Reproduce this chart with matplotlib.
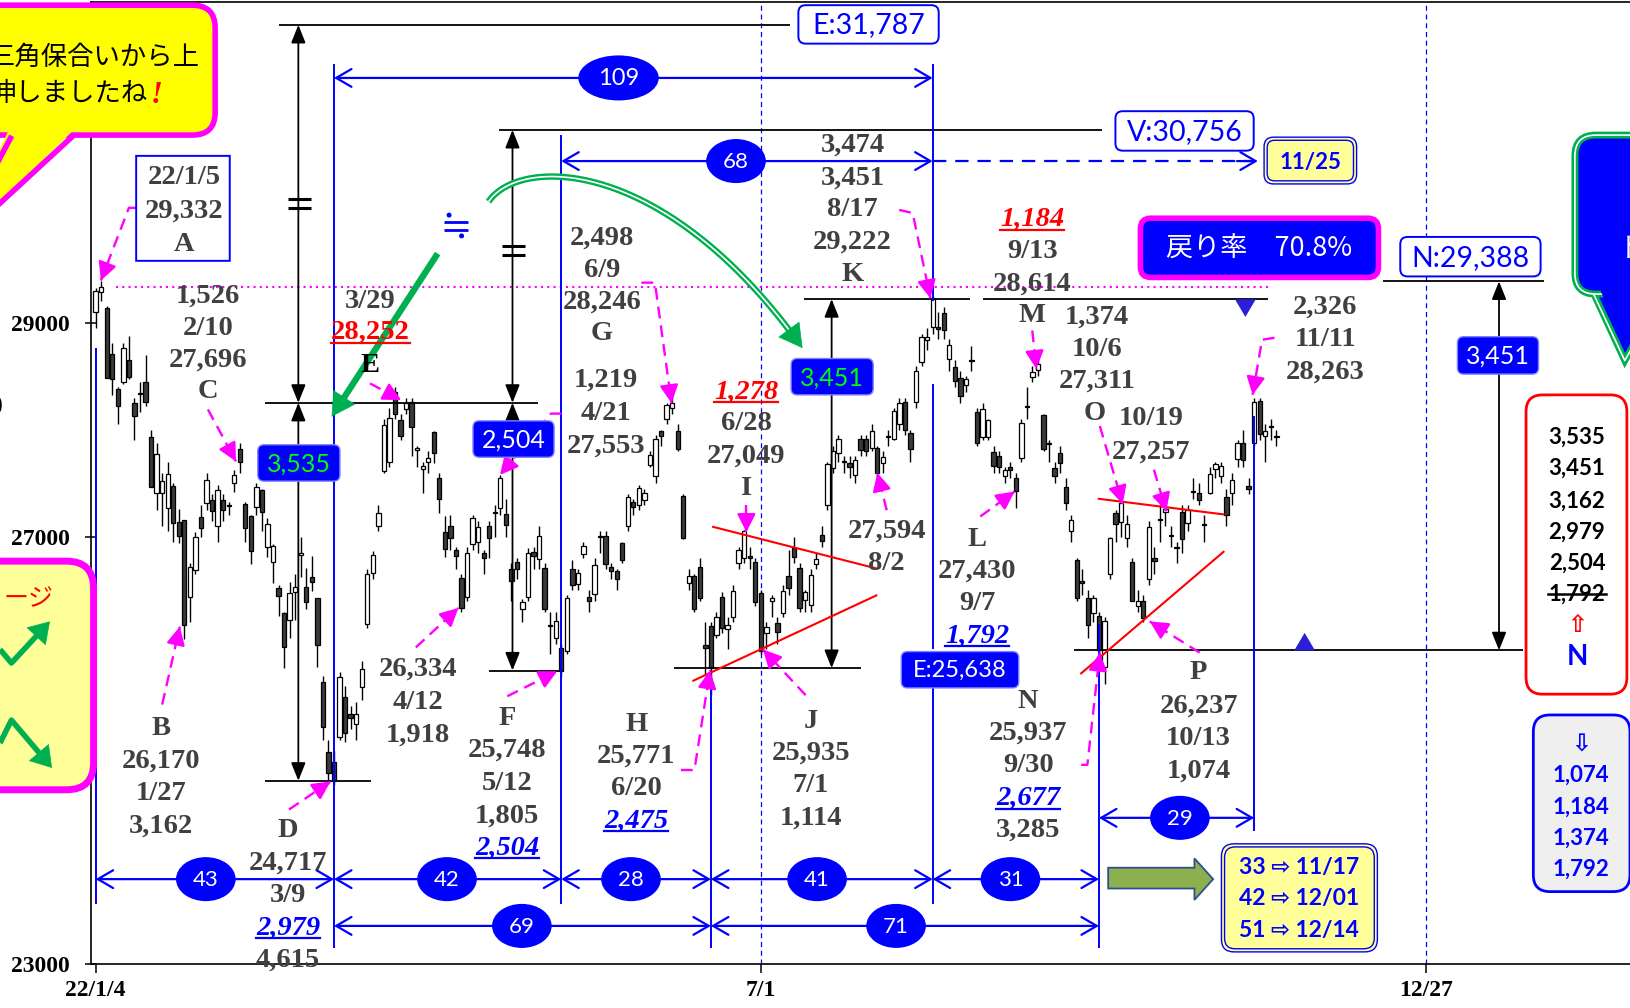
import numpy as np
import matplotlib
matplotlib.use("Agg")
import matplotlib.pyplot as plt
from matplotlib.patches import FancyBboxPatch, Ellipse, Polygon, FancyArrowPatch, Circle

# ------------------------------------------------------------------ data
dates = ["1/4","1/5","1/6","1/7","1/11","1/12","1/13","1/14","1/17","1/18","1/19","1/20","1/21","1/24","1/25","1/26","1/27","1/28","1/31",
         "2/1","2/2","2/3","2/4","2/7","2/8","2/9","2/10","2/14","2/15","2/16","2/17","2/18","2/21","2/22","2/24","2/25","2/28",
         "3/1","3/2","3/3","3/4","3/7","3/8","3/9","3/10","3/11","3/14","3/15","3/16","3/17","3/18","3/22","3/23","3/24","3/25","3/28","3/29","3/30","3/31",
         "4/1","4/4","4/5","4/6","4/7","4/8","4/11","4/12","4/13","4/14","4/15","4/18","4/19","4/20","4/21","4/22","4/25","4/26","4/27","4/28",
         "5/2","5/6","5/9","5/10","5/11","5/12","5/13","5/16","5/17","5/18","5/19","5/20","5/23","5/24","5/25","5/26","5/27","5/30","5/31",
         "6/1","6/2","6/3","6/6","6/7","6/8","6/9","6/10","6/13","6/14","6/15","6/16","6/17","6/20","6/21","6/22","6/23","6/24","6/27","6/28","6/29","6/30",
         "7/1","7/4","7/5","7/6","7/7","7/8","7/11","7/12","7/13","7/14","7/15","7/19","7/20","7/21","7/22","7/25","7/26","7/27","7/28","7/29",
         "8/1","8/2","8/3","8/4","8/5","8/8","8/9","8/10","8/12","8/15","8/16","8/17","8/18","8/19","8/22","8/23","8/24","8/25","8/26","8/29","8/30","8/31",
         "9/1","9/2","9/5","9/6","9/7","9/8","9/9","9/12","9/13","9/14","9/15","9/16","9/20","9/21","9/22","9/26","9/27","9/28","9/29","9/30",
         "10/3","10/4","10/5","10/6","10/7","10/11","10/12","10/13","10/14","10/17","10/18","10/19","10/20","10/21","10/24","10/25","10/26","10/27","10/28","10/31",
         "11/1","11/2","11/4","11/7","11/8","11/9","11/10","11/11","11/14","11/15","11/16","11/17"]

opens = [29098,29288,29136,28711,28380,28450,28655,28253,28330,28448,27934,27410,27410,27270,27470,27140,27160,26440,26690,
         27180,27315,27345,27100,27345,27300,27500,27820,27310,27190,27280,27440,26905,26765,26520,26290,26220,26480,
         26830,26530,26620,26430,25640,24990,24890,25124,25500,25340,25245,25590,26180,26660,27100,27610,27700,28350,28095,28190,28260,27815,
         27630,27695,27975,27545,27040,27100,26880,26615,26440,26930,26950,26850,27100,27225,27270,27210,26700,26760,26320,26440,
         26860,26790,26710,26160,26055,25960,25930,26700,26560,26835,26440,26460,27000,27010,26720,26680,26945,27100,27320,
         27300,27345,27675,27565,27985,28105,28200,27990,27380,26570,26630,26720,25990,26160,26085,26440,26140,26245,26755,26805,26820,26760,
         26470,26100,26395,26195,26290,26630,26895,26710,26410,26365,26740,27020,27300,27645,27785,27700,27690,27580,27915,27915,
         27825,27825,27685,27930,27915,28050,28255,27965,28255,28630,28835,28965,28965,29095,28665,28590,28485,28420,28645,28170,27935,27935,
         27795,27755,27570,27655,27550,27740,28215,28490,28560,28140,27870,27645,27785,27460,27055,26785,26590,26430,26290,26255,
         25785,26655,27225,27140,26985,26760,26355,26400,26600,26800,27160,27235,27010,26900,27235,27125,27420,27410,27115,27405,
         27630,27570,27375,27410,27730,27880,27470,27880,28270,27945,28030,27945]
highs = [29323,29388,29158,28813,28400,28813,28876,28300,28447,28700,28000,27880,27600,27700,27500,27260,27160,26750,27048,
         27300,27600,27400,27480,27400,27320,27620,27880,27320,27200,27500,27450,27170,26930,26550,26300,26580,26650,
         27000,26710,26820,26430,25700,25100,25000,25735,25600,25420,25450,25835,26700,26870,27300,28100,28200,28400,28150,28300,28300,27850,
         27700,27800,27990,27600,27190,27200,26900,26650,26900,27200,27150,26880,27150,27300,27580,27350,26750,26800,26420,26890,
         26900,27100,26750,26300,26300,26000,26450,26780,26700,26950,26500,26800,27050,27050,26750,26700,26950,27400,27350,
         27480,27450,27800,27950,28000,28250,28389,28050,27400,26700,26650,26800,26200,26200,26300,26480,26250,26550,26900,27062,26900,26800,
         26500,26200,26450,26250,26550,26880,27000,26750,26500,26700,26850,27100,27700,27850,27950,27750,27750,27750,27950,27950,
         28050,27850,27800,28000,28200,28300,28300,28000,28600,28900,28950,29250,29100,29150,28850,28650,28550,28500,28780,28200,28250,28100,
         27850,27800,27650,27700,27600,28100,28400,28600,28650,28150,27900,27700,27850,27550,27200,26800,26700,26500,26450,26300,
         26250,27000,27250,27399,27200,26800,26500,26450,27150,26900,27300,27300,27100,26950,27300,27300,27550,27500,27200,27650,
         27700,27700,27450,27600,27900,28000,27550,28300,28300,28050,28100,28000]
lows = [28954,29204,28487,28324,28050,28430,28475,27900,28164,28220,27467,27250,27100,27050,26950,26940,26044,26200,26650,
        27000,27250,27150,26950,27150,27200,27420,27600,26950,26740,27200,27050,26810,26570,26260,25776,26050,26220,
        26625,26320,26490,25785,25100,24690,24681,25100,25075,25200,25100,25475,26150,26600,27050,27600,27650,28100,27900,28150,27750,27650,
        27410,27600,27690,27225,26810,26880,26700,26300,26400,26880,26850,26650,26800,27000,27200,27000,26400,26600,26200,26400,
        26700,26700,26300,25900,26000,25688,25900,26500,26500,26800,26300,26400,26850,26700,26600,26500,26750,27050,27200,
        27250,27300,27650,27500,27850,28050,28150,27800,26980,26500,26300,26400,25720,25520,26050,26100,25950,26200,26700,26750,26700,26350,
        25900,25950,26250,26000,26250,26450,26750,26300,26300,26300,26700,26900,27250,27600,27700,27600,27550,27500,27750,27750,
        27800,27450,27600,27850,27900,28000,27950,27700,28200,28600,28750,28900,28850,28850,28550,28400,28250,28350,28550,27850,27900,27900,
        27600,27600,27500,27550,27268,27700,28100,28450,28500,27800,27700,27500,27600,27250,26950,26400,26450,26050,26200,25900,
        25621,26600,26950,27000,26900,26400,26300,26200,26550,26650,26950,27100,26900,26750,26850,27050,27350,27300,26950,27400,
        27550,27500,27100,27300,27650,27650,27400,27850,27900,27700,27900,27850]
closes = [29301,29332,28487,28478,28222,28765,28489,28124,28333,28257,27467,27772,27522,27588,27131,27011,26170,26717,27001,
          27078,27533,27241,27440,27248,27284,27579,27696,27079,26865,27460,27232,27122,26910,26449,25970,26476,26526,
          26844,26393,26577,25985,25221,24790,24717,25690,25162,25307,25346,25762,26652,26827,27224,28040,28110,28149,27943,28252,28027,27821,
          27665,27736,27787,27350,26888,26985,26821,26334,26843,27172,27093,26799,26985,27217,27553,27105,26590,26700,26386,26847,
          26818,27003,26319,26167,26213,25748,26427,26547,26659,26911,26402,26739,27001,26748,26677,26604,26781,27369,27279,
          27457,27413,27761,27915,27943,28234,28246,27824,26987,26629,26326,26431,25963,25771,26246,26149,26171,26491,26871,27049,26804,26393,
          25935,26153,26423,26107,26490,26517,26812,26336,26478,26643,26788,26961,27680,27803,27914,27699,27655,27715,27815,27801,
          27993,27594,27741,27932,28175,28249,27999,27819,28546,28871,28868,29222,28942,28930,28794,28452,28313,28479,28641,27878,28195,28091,
          27661,27650,27619,27626,27430,28065,28214,28542,28614,27818,27875,27567,27688,27313,27153,26431,26571,26173,26422,25937,
          26215,26992,27120,27311,27116,26401,26396,26237,27090,26775,27156,27257,27006,26890,26974,27250,27431,27345,27105,27587,
          27678,27663,27199,27527,27872,27716,27446,28263,27963,27990,28028,27930]

# pivot closes and targets
E_val, D_val, F_val, H_val, K_val, N_val, A_val = 28252, 24717, 25748, 25771, 29222, 25937, 29332
E_target, V_target, N_target = 31787, 30756, 29388
pivots = {"D": "3/9", "F": "5/12", "H": "6/20", "K": "8/17", "N": "9/30", "Q": "11/11"}
xtick_pos = [0, 120, 240]
xtick_lab = ["22/1/4", "7/1", "12/27"]
ytick_vals = [23000, 25000, 27000, 29000, 31000]

MAG, BLUE, GRAY, GREEN = "#ff00ff", "#0000ff", "#404040", "#00b050"
SERIF = "Liberation Serif"
SANS = ["Lato", "DejaVu Sans"]
CJK = ["Noto Sans CJK JP", "DejaVu Sans"]

fig = plt.figure(figsize=(16.3, 10.08), dpi=100, facecolor="white")
ax = fig.add_axes([88/1568, 42/970, 1 - 88/1568, 926/970])
ax.set_xlim(-0.75, 276.8)
ax.set_ylim(23000, 32000)

# ------------------------------------------------------------------ candles
x = np.arange(len(dates))
o = np.array(opens, float); h = np.array(highs, float)
l = np.array(lows, float); c = np.array(closes, float)
up = c >= o
ax.vlines(x, np.minimum(l, np.minimum(o, c)), np.maximum(h, np.maximum(o, c)),
          color="black", lw=1.0, zorder=2)
bot = np.minimum(o, c)
ht = np.maximum(np.abs(c - o), 10)
ax.bar(x[up], ht[up], bottom=bot[up], width=0.78, facecolor="white",
       edgecolor="black", linewidth=0.9, zorder=3)
ax.bar(x[~up], ht[~up], bottom=bot[~up], width=0.78, facecolor="#3a3a3a",
       edgecolor="black", linewidth=0.9, zorder=3)

for xv in (120, 240):
    ax.axvline(xv, color=BLUE, lw=0.9, ls=(0, (4, 3)), zorder=1)

ax.set_yticks(ytick_vals)
ax.set_yticklabels([str(v) for v in ytick_vals])
ax.set_xticks(xtick_pos)
ax.set_xticklabels(xtick_lab)
ax.tick_params(axis="y", direction="inout", length=9, width=1.1, pad=11)
ax.tick_params(axis="x", direction="out", length=6.5, width=1.1, pad=5)
for tl in ax.get_xticklabels() + ax.get_yticklabels():
    tl.set_fontfamily(SERIF); tl.set_fontweight("bold"); tl.set_fontsize(17)
ax.spines["right"].set_visible(False)
for s in ("left", "bottom", "top"):
    ax.spines[s].set_linewidth(1.2)

# ------------------------------------------------------------------ overlay (reference pixel space 1568x970)
ov = fig.add_axes([0, 0, 1, 1], zorder=5)
ov.set_xlim(0, 1568); ov.set_ylim(970, 0)
ov.axis("off"); ov.patch.set_visible(False)


def dov(xi, yv):
    return ov.transData.inverted().transform(ax.transData.transform((xi, yv)))


def X(i):
    return dov(i, 27000)[0]


def Y(v):
    return dov(0, v)[1]


iD, iF, iH, iK, iN, iQ = [dates.index(pivots[k]) for k in ("D", "F", "H", "K", "N", "Q")]
xD, xF, xH, xK, xN, xQ, x0 = X(iD), X(iF), X(iH), X(iK), X(iN), X(iQ), X(0)

underlines, strikes = [], []


def rbox(x0_, y0_, x1_, y1_, fc, ec, lw, r=6, z=6, ls="-"):
    p = FancyBboxPatch((x0_, y0_), x1_ - x0_, y1_ - y0_,
                       boxstyle=f"round,pad=0,rounding_size={r}",
                       fc=fc, ec=ec, lw=lw, zorder=z, ls=ls)
    ov.add_patch(p)
    return p


def lab(xp, yp, s, kind="g", size=20.5):
    col = {"g": GRAY, "k": "black", "r": "red", "ri": "red", "bi": BLUE}[kind]
    st = "italic" if kind in ("ri", "bi") else "normal"
    t = ov.text(xp, yp, s, ha="center", va="center", fontsize=size, color=col,
                fontstyle=st, fontweight="bold", family=SERIF, zorder=7)
    if kind in ("r", "ri", "bi"):
        underlines.append((t, col))
    return t


def block(xp, rows):
    for row in rows:
        lab(xp, row[0], row[1], *(row[2:] if len(row) > 2 else ()))


def hline(y, xa, xb, col="black", lw=1.3, z=2, ls="-"):
    ov.plot([xa, xb], [y, y], color=col, lw=lw, zorder=z, ls=ls, solid_capstyle="butt")


def vline(xp, ya, yb, col=BLUE, lw=1.4, z=2):
    ov.plot([xp, xp], [ya, yb], color=col, lw=lw, zorder=z, solid_capstyle="butt")


def marrow(pts):
    pts = np.array(pts, float)
    ov.plot(pts[:, 0], pts[:, 1], color=MAG, lw=1.7, ls=(0, (5, 3)), zorder=4)
    a, b = pts[-2], pts[-1]
    d = (b - a) / np.hypot(*(b - a))
    ov.add_patch(FancyArrowPatch(b - d * 14, b, arrowstyle="-|>,head_length=0.55,head_width=0.28",
                                 mutation_scale=20, color=MAG, lw=1.7, zorder=4,
                                 shrinkA=0, shrinkB=0))


def dim(xa, xb, y, col=BLUE):
    ov.annotate("", xy=(xb, y), xytext=(xa, y),
                arrowprops=dict(arrowstyle="<->,head_length=0.55,head_width=0.32", color=col,
                                lw=1.6, shrinkA=0, shrinkB=0, mutation_scale=20), zorder=3)


def cnt(xp, y, s, w=56, hh=41, size=16):
    ov.add_patch(Ellipse((xp, y), w, hh, fc=BLUE, ec=BLUE, lw=1, zorder=5))
    ov.text(xp, y + 1, s, ha="center", va="center", color="white", fontsize=size,
            family=SANS, zorder=7)


def vdim(xp, ya, yb):
    ov.annotate("", xy=(xp, yb), xytext=(xp, ya),
                arrowprops=dict(arrowstyle="<|-|>,head_length=0.55,head_width=0.22", color="black",
                                lw=1.3, shrinkA=0, shrinkB=0, mutation_scale=20), zorder=3)


def garrow(pts, tip_len=16):
    pts = np.array(pts, float)
    seg = np.cumsum(np.r_[0, np.hypot(*np.diff(pts, axis=0).T)])
    cut = seg[-1] - tip_len
    keep = pts[seg <= cut]
    d = pts[-1] - keep[-1]
    d /= np.hypot(*d)
    base = pts[-1] - d * tip_len
    body = np.vstack([keep, base])
    ov.plot(body[:, 0], body[:, 1], color=GREEN, lw=4.6, zorder=4, solid_capstyle="butt")
    ov.plot(body[:-1, 0], body[:-1, 1], color="white", lw=1.2, zorder=4, solid_capstyle="butt")
    ov.add_patch(FancyArrowPatch(base, pts[-1], arrowstyle="-|>,head_length=0.8,head_width=0.45",
                                 mutation_scale=20, color=GREEN, lw=0.5, zorder=4,
                                 shrinkA=0, shrinkB=0))


# --- magenta dotted level (A close)
hline(Y(A_val), 112, 1222, col=MAG, lw=1.5, ls=(0, (1, 2)))

# --- black level lines (V line drawn slightly higher as in the original)
for v, xa, xb, dy in [(E_target, 268, 760, 0), (V_target, 480, 1060, -5), (E_val, 255, 518, 0),
                      (D_val, 255, 357, 0), (F_val, 470, 540, 0), (H_val, 648, 828, 0),
                      (K_val, 773, 933, 0), (K_val, 946, 1220, 0), (N_val, 1033, 1465, 0),
                      (N_target, 1330, 1485, 0)]:
    hline(Y(v) + dy, xa, xb)

# --- vertical black measure arrows
vdim(287, Y(E_target), Y(E_val)); vdim(287, Y(E_val), Y(D_val))
vdim(493, Y(V_target) - 5, Y(E_val)); vdim(493, Y(E_val), Y(F_val))
vdim(800, Y(H_val), Y(K_val))
vdim(1442, Y(N_target), Y(N_val))
for xc, yc in [(288, 196), (494, 241)]:
    hline(yc - 4.5, xc - 11, xc + 11, lw=2.2, z=4)
    hline(yc + 4.5, xc - 11, xc + 11, lw=2.2, z=4)

# --- blue vertical period lines
for xp, ya, yb in [(x0, 335, 870), (xD, 62, 912), (xF, 130, 870), (xH, 645, 912),
                   (xK, 62, 290), (xK, 370, 625), (xK, 662, 870), (xN, 600, 912), (xQ, 400, 800)]:
    vline(xp, ya, yb)

# --- blue period dimension rows
for xa, xb in [(x0, xD), (xD, xF), (xF, xH), (xH, xK), (xK, xN)]:
    dim(xa, xb, 846)
for xa, xb in [(xD, xH), (xH, xN)]:
    dim(xa, xb, 891)
dim(xN, xQ, 787)
dim(xD, xK, 75)
dim(xF, xK, 155)
ov.plot([xK, 1203], [155, 155], color=BLUE, lw=1.6, ls=(0, (6, 4)), zorder=3)
ov.annotate("", xy=(1210, 155), xytext=(1190, 155),
            arrowprops=dict(arrowstyle="->,head_length=0.55,head_width=0.32", color=BLUE, lw=1.6,
                            shrinkA=0, shrinkB=0, mutation_scale=20), zorder=3)
for xp, y, s in [(198, 846, "43"), (430, 846, "42"), (607, 846, "28"), (786, 846, "41"),
                 (972, 846, "31"), (502, 891, "69"), (862, 891, "71"), (1135, 787, "29"),
                 (708, 155, "68")]:
    cnt(xp, y, s)
cnt(595, 75, "109", w=76, hh=42, size=17)

# --- red triangle (wedge) lines
for (xa, ya), (xb, yb) in [((686, 507), (843, 547)), ((667, 655), (843, 573)),
                           ((1057, 480), (1177, 495)), ((1040, 648), (1177, 531))]:
    ov.plot([xa, xb], [ya, yb], color="red", lw=1.5, zorder=4)

# --- markers
ov.add_patch(Polygon([(1188, 288), (1208, 288), (1198, 305)], closed=True, fc="#2a1fd6", ec="none", zorder=5))
ov.add_patch(Polygon([(1245, 626), (1265, 626), (1255, 609)], closed=True, fc="#2a1fd6", ec="none", zorder=5))

# --- green arrows
t = np.linspace(0, 1, 80)[:, None]
P = np.array([(470, 194), (500, 150), (640, 150), (772, 335)], float)
arc = ((1 - t) ** 3) * P[0] + 3 * ((1 - t) ** 2) * t * P[1] + 3 * (1 - t) * t ** 2 * P[2] + t ** 3 * P[3]
garrow(arc)
garrow([(421, 244), (319, 401)])

# "≒" sign (drawn)
hline(213.5, 427, 450, col=BLUE, lw=2.0, z=7)
hline(221.0, 427, 450, col=BLUE, lw=2.0, z=7)
ov.add_patch(Circle((432, 207), 2.4, fc=BLUE, ec="none", zorder=7))
ov.add_patch(Circle((444, 227), 2.4, fc=BLUE, ec="none", zorder=7))

# --- magenta pointer arrows
for pts in [[(131, 200), (124, 200), (97, 270)],
            [(200, 394), (227, 444)],
            [(156, 678), (173, 603)],
            [(278, 779), (318, 752)],
            [(356, 369), (386, 385)],
            [(400, 623), (441, 585)],
            [(488, 670), (536, 646)],
            [(540, 398), (530, 398), (481, 457)],
            [(617, 272), (630, 272), (646, 388)],
            [(718, 486), (718, 512)],
            [(655, 741), (668, 741), (683, 645)],
            [(775, 669), (734, 625)],
            [(853, 491), (844, 455)],
            [(865, 202), (878, 205), (895, 287)],
            [(943, 497), (976, 473)],
            [(993, 318), (997, 355)],
            [(1058, 410), (1080, 485)],
            [(1110, 452), (1122, 492)],
            [(1040, 736), (1046, 736), (1058, 628)],
            [(1154, 628), (1106, 598)],
            [(1226, 325), (1214, 327), (1205, 380)]]:
    marrow(pts)

# --- text labels (pivot information)
rbox(131, 150, 221, 251, "white", BLUE, 1.4, r=0, z=5)
block(177, [(171, "22/1/5"), (203, "29,332"), (235, "A")])
block(200, [(285, "1,526"), (316, "2/10"), (347, "27,696"), (377, "C")])
block(356, [(290, "3/29"), (320, "28,252", "r"), (352, "E", "k")])
block(155, [(701, "B"), (732, "26,170"), (764, "1/27"), (795, "3,162")])
block(277, [(799, "D"), (831, "24,717"), (862, "3/9"), (893, "2,979", "bi"), (924, "4,615")])
block(402, [(644, "26,334"), (676, "4/12"), (707, "1,918")])
block(488, [(691, "F"), (722, "25,748"), (754, "5/12"), (785, "1,805"), (816, "2,504", "bi")])
block(579, [(229, "2,498"), (260, "6/9"), (291, "28,246"), (321, "G")])
block(583, [(366, "1,219"), (398, "4/21"), (429, "27,553")])
block(718, [(377, "1,278", "ri"), (408, "6/28"), (439, "27,049"), (470, "I")])
block(612, [(697, "H"), (728, "25,771"), (759, "6/20"), (790, "2,475", "bi")])
block(780, [(694, "J"), (725, "25,935"), (756, "7/1"), (787, "1,114")])
block(820, [(140, "3,474"), (171, "3,451"), (202, "8/17"), (233, "29,222"), (264, "K")])
block(853, [(511, "27,594"), (542, "8/2")])
block(993, [(211, "1,184", "ri"), (242, "9/13"), (273, "28,614"), (304, "M")])
block(1055, [(305, "1,374"), (336, "10/6"), (367, "27,311")])
lab(1053, 398, "O")
block(1107, [(403, "10/19"), (435, "27,257")])
block(940, [(519, "L"), (550, "27,430"), (581, "9/7"), (612, "1,792", "bi")])
block(989, [(675, "N"), (706, "25,937"), (737, "9/30"), (768, "2,677", "bi"), (799, "3,285")])
block(1153, [(647, "P"), (680, "26,237"), (711, "10/13"), (742, "1,074")])
block(1275, [(296, "2,326"), (327, "11/11"), (358, "28,263")])
# partially visible character at the far left edge
ov.text(3, 392, "0", ha="right", va="center", fontsize=20, fontweight="bold", family=SERIF,
        color="black", zorder=7)

# --- value boxes
for (bx0, by0, bx1, by1, s, col, fs) in [(248, 428, 327, 463, "3,535", "#00ff00", 18),
                                         (455, 405, 533, 440, "2,504", "white", 18),
                                         (761, 345, 840, 380, "3,451", "#00ff00", 18),
                                         (1402, 324, 1480, 360, "3,451", "white", 18),
                                         (867, 627, 980, 662, "E:25,638", "white", 17)]:
    rbox(bx0, by0, bx1, by1, BLUE, "#8080ff", 1.0, r=6)
    ov.text((bx0 + bx1) / 2, (by0 + by1) / 2 + 1, s, ha="center", va="center", color=col,
            fontsize=fs, family=SANS, zorder=7)

for (bx0, by0, bx1, by1, s) in [(768, 5, 903, 42, "E:31,787"), (1073, 107, 1206, 145, "V:30,756"),
                                (1347, 228, 1482, 266, "N:29,388")]:
    rbox(bx0, by0, bx1, by1, "white", BLUE, 1.4, r=7)
    ov.text((bx0 + bx1) / 2, (by0 + by1) / 2 + 1, s, ha="center", va="center", color=BLUE,
            fontsize=20.5, family=SANS, zorder=7)

# 11/25 box
rbox(1216, 132, 1305, 177, "#ffff99", BLUE, 1.0, r=9)
rbox(1219, 135, 1302, 174, "none", BLUE, 1.0, r=7)
ov.text(1260.5, 156, "11/25", ha="center", va="center", color=BLUE, fontsize=16,
        fontweight="bold", family=SANS, zorder=7)

# return-rate box
rbox(1097, 210, 1326, 267, BLUE, MAG, 4, r=10)
ov.text(1211, 240, "戻り率　70.8%", ha="center", va="center", color="white", fontsize=19.5,
        family=CJK, zorder=7)

# red list box
rbox(1468, 380, 1565, 668, "white", "red", 2, r=16)
for y, s in [(421, "3,535"), (451, "3,451"), (482, "3,162"), (512, "2,979"), (542, "2,504")]:
    ov.text(1517, y, s, ha="center", va="center", color="black", fontsize=16, fontweight="bold",
            family=SANS, zorder=7)
ts = ov.text(1517, 572, "1,792", ha="center", va="center", color="black", fontsize=16,
             fontweight="bold", family=SANS, zorder=7)
strikes.append(ts)
ov.text(1517, 601, "⇧", ha="center", va="center", color="red", fontsize=17, fontweight="bold",
        family=["DejaVu Sans"], zorder=7)
ov.text(1517, 632, "N", ha="center", va="center", color=BLUE, fontsize=20, fontweight="bold",
        family=SANS, zorder=7)

# blue list box
rbox(1475, 688, 1568, 858, "#efefef", BLUE, 2, r=16)
ov.text(1521, 716, "⇩", ha="center", va="center", color=BLUE, fontsize=17, fontweight="bold",
        family=["DejaVu Sans"], zorder=7)
for y, s in [(746, "1,074"), (777, "1,184"), (807, "1,374"), (836, "1,792")]:
    ov.text(1521, y, s, ha="center", va="center", color=BLUE, fontsize=16, fontweight="bold",
            family=SANS, zorder=7)

# forecast box + block arrow
ov.add_patch(Polygon([(1066, 835), (1149, 835), (1149, 826), (1167, 846), (1149, 866), (1149, 855), (1066, 855)],
                     closed=True, fc="#8db04f", ec="#2f4f8f", lw=1.3, zorder=5))
rbox(1175, 812, 1325, 916, "#ffff99", BLUE, 1.0, r=12)
rbox(1178, 815, 1322, 913, "none", BLUE, 1.0, r=10)
for y, s in [(835, "33 ⇨ 11/17"), (865, "42 ⇨ 12/01"), (895, "51 ⇨ 12/14")]:
    ov.text(1250, y, s, ha="center", va="center", color=BLUE, fontsize=16.5, fontweight="bold",
            family=SANS, zorder=7)

# green-bordered callout at top right
ov.add_patch(Polygon([(1532, 280), (1563, 347), (1600, 280)], closed=True, fc=BLUE, ec=GREEN, lw=5, zorder=5))
rbox(1515, 130, 1660, 283, BLUE, GREEN, 5, r=20, z=5)
rbox(1515, 130, 1660, 283, "none", "white", 1.2, r=20, z=5)
ov.add_patch(Polygon([(1538, 276), (1563, 333), (1594, 276)], closed=True, fc=BLUE, ec="none", zorder=5))
ov.plot([1533, 1563, 1599], [283, 347, 283], color="white", lw=1.2, zorder=5)
ov.text(1556, 240, "ト", ha="left", va="center", color="white", fontsize=20, family=CJK, zorder=7)

# yellow callout top left
rbox(-40, 5, 207, 130, "#ffff00", MAG, 4, r=22)
ov.add_patch(Polygon([(70, 126), (-45, 237), (8, 126)], closed=True, fc="#ffff00", ec="none", zorder=6))
ov.plot([70, -45], [131, 237], color=MAG, lw=4, zorder=6)
ov.plot([10, -45], [133, 237], color=MAG, lw=4, zorder=6)
ov.text(192, 55, "三角保合いから上", ha="right", va="center", color="black", fontsize=19,
        family=CJK, zorder=7)
ov.text(142, 90, "伸しましたね", ha="right", va="center", color="black", fontsize=19,
        family=CJK, zorder=7)
ov.text(151, 92, "!", ha="center", va="center", color="red", fontsize=22, fontweight="bold",
        fontstyle="italic", family=SERIF, zorder=7)

# yellow box middle left
rbox(-40, 540, 90, 760, "#ffff99", MAG, 5, r=26)
ov.text(51, 577, "ージ", ha="right", va="center", color="red", fontsize=18, family=CJK, zorder=7)
for pts in ([(0, 625), (11, 638), (48, 598)], [(0, 715), (11, 693), (50, 739)]):
    pts = np.array(pts, float)
    a, b = pts[-2], pts[-1]
    d = (b - a) / np.hypot(*(b - a))
    body = np.vstack([pts[:-1], b - d * 12])
    ov.plot(body[:, 0], body[:, 1], color=GREEN, lw=4, zorder=7, solid_capstyle="butt")
    ov.add_patch(FancyArrowPatch(b - d * 13, b, arrowstyle="-|>,head_length=0.7,head_width=0.45",
                                 mutation_scale=20, color=GREEN, lw=0.5, zorder=7,
                                 shrinkA=0, shrinkB=0))

# ------------------------------------------------------------------ underline / strike pass
fig.canvas.draw()
rend = fig.canvas.get_renderer()
inv = ov.transData.inverted()
for tx, col in underlines:
    bb = tx.get_window_extent(rend)
    (ax0, yb), (ax1, yt) = inv.transform([[bb.x0, bb.y0], [bb.x1, bb.y1]])
    ov.plot([ax0, ax1], [yb - 2, yb - 2], color=col, lw=1.6, zorder=7)
for tx in strikes:
    bb = tx.get_window_extent(rend)
    (ax0, yb), (ax1, yt) = inv.transform([[bb.x0, bb.y0], [bb.x1, bb.y1]])
    ym = (yb + yt) / 2
    ov.plot([ax0 - 1, ax1 + 1], [ym, ym], color="black", lw=1.8, zorder=7)

fig.savefig("out.png", dpi=100, facecolor="white")
